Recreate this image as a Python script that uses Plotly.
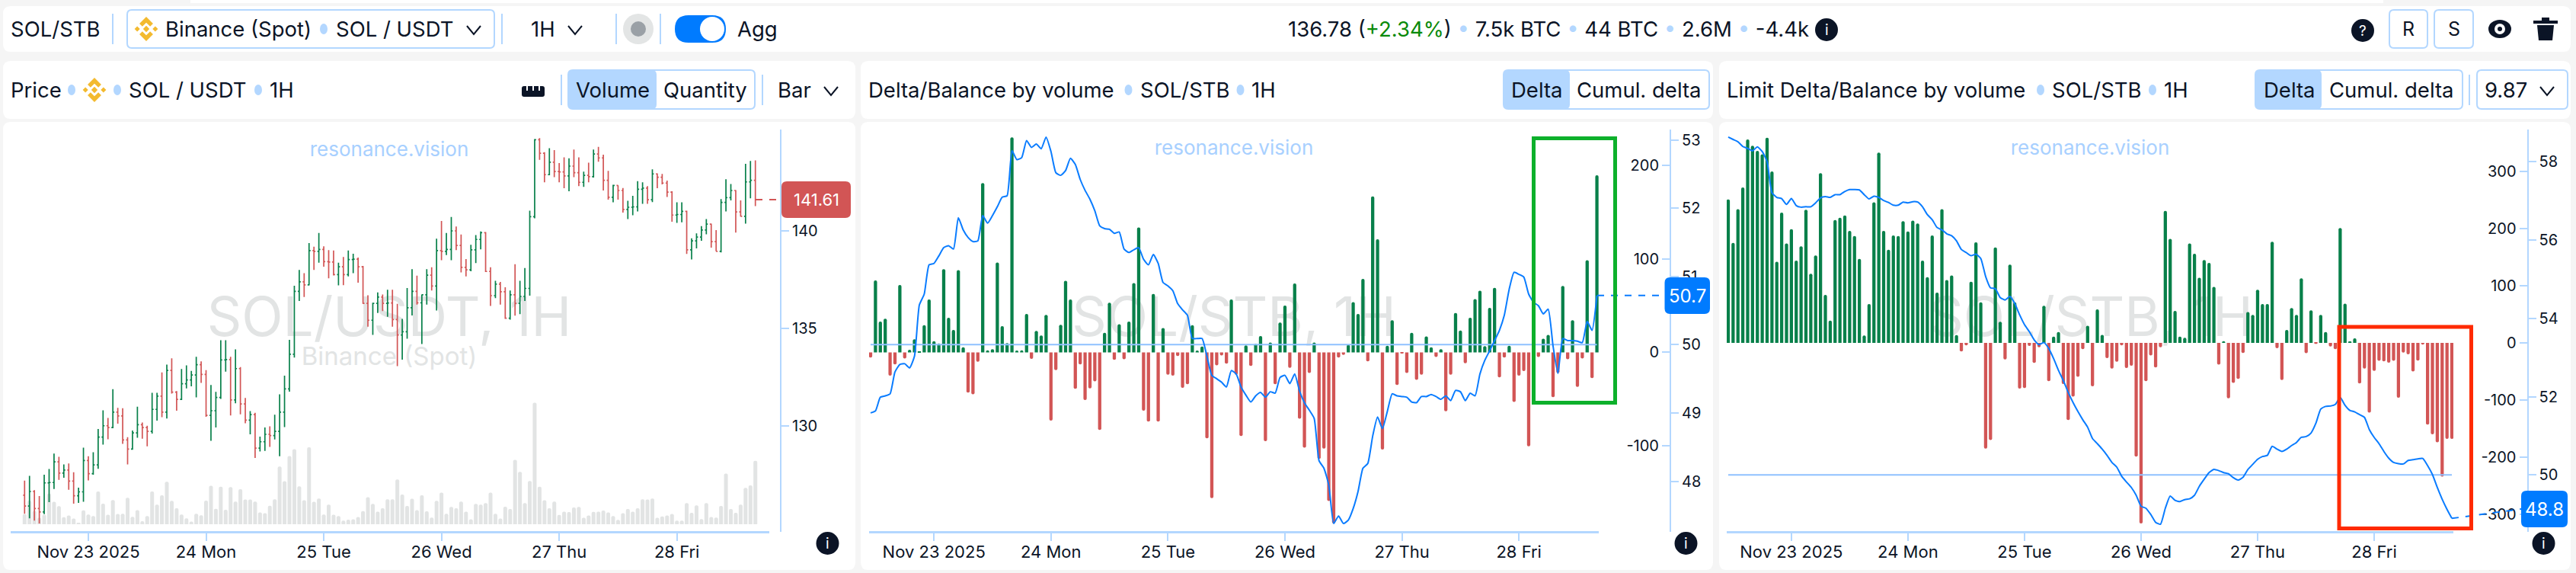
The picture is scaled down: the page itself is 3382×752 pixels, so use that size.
# SOL/STB dashboard: price, delta/balance, limit delta/balance on one figure
import pandas as pd
import plotly.graph_objects as go

W, H = 3382, 752

##Data
day_ticks = ["2025-11-23", "2025-11-24", "2025-11-25", "2025-11-26", "2025-11-27", "2025-11-28"]
day_labels = ["Nov 23 2025", "24 Mon", "25 Tue", "26 Wed", "27 Thu", "28 Fri"]

opens = [126.45,125.89,126.64,125.77,125.59,127.08,127.10,128.16,127.58,127.74,
127.17,126.42,126.62,128.23,127.55,128.00,129.43,130.01,129.92,130.71,
130.51,129.28,128.81,129.64,130.06,129.92,129.72,130.85,131.53,130.71,
132.85,131.73,131.36,132.16,132.36,132.61,133.14,132.64,130.54,130.78,
131.46,133.38,133.40,131.33,132.94,131.13,130.30,130.58,128.86,129.19,
129.57,129.51,129.72,130.71,131.90,133.68,136.90,137.39,137.23,138.99,
138.95,139.05,138.42,138.40,137.76,138.16,137.76,138.53,138.55,138.16,
136.28,135.42,136.28,136.61,136.28,136.30,135.45,134.66,134.83,136.06,
136.90,136.31,136.72,137.73,137.17,138.99,138.95,139.05,140.00,139.25,
138.13,138.00,139.03,139.56,139.91,137.92,136.68,137.27,136.88,135.52,
136.72,136.28,136.64,137.05,140.73,144.67,143.98,142.88,143.52,143.04,
143.02,142.82,143.32,142.98,142.49,142.85,142.78,143.94,143.74,142.59,
141.72,142.33,142.07,141.10,141.21,141.23,142.13,142.19,141.60,142.92,
142.75,142.45,141.99,140.81,140.84,141.00,139.03,139.49,139.68,140.04,
140.35,139.45,138.95,141.46,141.70,142.07,140.97,140.75,142.51,142.59]

highs = [127.20,127.44,126.71,126.41,127.50,127.79,128.58,128.42,128.03,128.08,
127.63,126.84,128.89,128.45,128.65,129.84,130.80,130.41,131.88,130.93,
130.91,129.42,129.77,130.99,130.18,130.01,131.70,131.70,132.74,133.14,
133.47,131.79,132.92,133.11,132.82,133.54,133.31,132.86,132.10,131.75,
134.39,134.39,133.54,133.93,133.02,131.44,130.76,130.67,129.45,129.92,
129.98,130.58,131.62,132.58,134.41,137.19,138.00,137.83,139.37,139.19,
139.89,139.21,139.01,138.99,138.37,138.66,138.99,138.83,138.63,138.20,
136.70,136.32,136.85,136.74,136.98,136.98,136.26,135.49,137.07,138.04,
137.70,136.74,138.04,138.13,139.60,140.51,139.89,140.71,140.22,139.81,
138.55,139.29,139.78,139.97,139.94,138.13,137.44,137.38,137.11,136.94,
138.29,137.44,138.10,141.03,144.71,144.76,144.03,144.24,144.14,143.48,
143.77,143.72,144.17,143.77,143.04,143.50,144.17,144.31,143.91,143.08,
142.36,142.33,142.20,141.54,141.80,142.55,142.49,142.29,143.15,142.95,
142.92,142.58,142.03,141.46,141.46,141.03,139.62,139.87,140.24,140.61,
140.37,140.04,141.63,142.65,142.40,142.09,141.56,143.44,143.58,143.61]

lows = [125.50,125.26,125.15,125.00,125.48,126.09,126.77,127.24,127.34,126.73,
126.02,126.05,126.11,127.21,127.50,127.80,129.04,129.32,129.88,130.12,
129.08,128.03,128.78,129.39,129.35,128.95,129.61,130.27,130.45,130.38,
131.66,130.78,131.33,131.92,132.03,131.46,132.21,130.47,129.24,129.92,
131.39,132.78,130.54,131.16,130.60,130.14,129.57,128.36,128.69,128.72,
128.93,129.31,128.45,129.94,131.76,133.51,136.41,136.61,137.21,138.00,
138.37,138.16,137.57,137.71,137.21,137.22,137.67,137.83,137.34,136.26,
135.09,134.67,135.79,135.89,135.60,135.09,133.07,133.40,134.47,135.66,
136.22,134.20,136.22,136.94,135.92,138.50,138.76,138.50,139.01,137.87,
137.67,137.93,138.35,139.05,137.89,136.15,136.55,136.22,135.49,135.45,
135.65,135.73,136.41,136.68,140.64,143.64,142.49,142.85,142.75,142.49,
142.19,142.03,142.75,142.29,142.26,142.49,142.73,143.54,142.07,141.60,
141.46,141.60,140.94,140.61,140.80,141.00,141.39,141.39,141.47,142.19,
142.38,141.74,140.47,140.41,140.44,138.82,138.53,139.10,139.49,139.82,
139.14,138.95,138.90,141.00,141.56,139.91,140.73,140.37,141.67,141.27]

closes = [125.89,126.64,125.77,125.59,127.08,127.10,128.16,127.58,127.74,127.17,
126.42,126.62,128.23,127.55,128.00,129.43,130.01,129.92,130.71,130.51,
129.28,128.81,129.64,130.06,129.92,129.72,130.85,131.53,130.71,132.85,
131.73,131.36,132.16,132.36,132.61,133.14,132.64,130.54,130.78,131.46,
133.38,133.40,131.33,132.94,131.13,130.30,130.58,128.86,129.19,129.57,
129.51,129.72,130.71,131.90,133.68,136.90,137.39,137.23,138.99,138.95,
139.05,138.42,138.40,137.76,138.16,137.76,138.53,138.55,138.16,136.28,
135.42,136.28,136.61,136.28,136.30,135.45,134.66,134.83,136.06,136.90,
136.31,136.72,137.73,137.17,138.99,138.95,139.05,140.00,139.25,138.13,
138.00,139.03,139.56,139.91,137.92,136.68,137.27,136.88,135.52,136.72,
136.28,136.64,137.05,140.73,144.67,143.98,142.88,143.52,143.04,143.02,
142.82,143.32,142.98,142.49,142.85,142.78,143.94,143.74,142.59,141.72,
142.33,142.07,141.10,141.21,141.23,142.13,142.19,141.60,142.92,142.75,
142.45,141.99,140.81,140.84,141.00,139.03,139.49,139.68,140.04,140.35,
139.45,138.95,141.46,141.70,142.07,140.97,140.75,142.51,142.59,141.60]

volumes = [.39,.92,.52,.25,.37,1.19,.87,.70,.27,.34,.22,.05,.54,.38,.32,1.27,.80,.37,.94,.40,
.41,1.03,.29,.55,.12,.32,1.27,.76,1.12,1.65,.91,.62,.38,.23,.10,.41,.35,.92,1.49,.60,
1.46,.56,1.44,.88,1.36,.96,.96,.88,.46,.43,.72,.97,2.24,1.67,2.65,2.91,1.47,.93,2.99,.87,
1.00,.38,.76,.37,.32,.14,.18,.19,.28,.51,1.05,.79,.49,.62,.97,.97,1.74,1.15,.71,.99,
.55,1.12,.50,.26,.91,1.23,.41,.67,.62,.88,.49,.19,.79,.76,.82,1.23,.41,.22,.68,.59,
2.50,2.03,.82,1.68,4.72,1.46,.93,.62,.88,.36,.49,.47,.65,.67,.25,.34,.48,.49,.53,.46,
.32,.17,.43,.59,.49,.62,.97,.96,1.00,.25,.30,.34,.40,.14,.14,.82,.44,.73,.20,.82,
.28,.26,.71,1.97,.59,.44,.76,1.41,1.51,2.46]

delta = [-5.5,77,33,36,-25,-13,72,-6.6,2.8,14,0.8,29,56.5,12,9.6,89,37,24,88,5.5,
-43,-45,-10,181,2.2,3.3,96,28,10,230,2,2.2,41,-7,23,18,40,-73,-19,29.5,
76.5,56.5,-39,-13,-51,-38.5,-31,-83,21,53,-8,30,-7.5,33,74,133.6,-62.5,-74,62.5,-74,
26,-24,-25,-4,-38,-34,29,2,6.3,-92,-156,-14,-3.3,-12,56.5,-24,-89.5,7.4,-14.6,9,
17.4,-95,10.5,-34,32,50,-16.5,73.6,-71,-102,-22,10.5,-114,-103,-159,-183,-5.5,-2.8,8,53.7,
41,78.5,-9.6,166.7,121,-104,7,34.4,-35,-1.4,-22,21,-29.5,-24,17,5.5,-5,3.3,-63,-24,
42,23.4,-11.6,37,57,66,6.6,47.7,69,-26.7,-5.5,7,-53,-25,-20,-100.5,3,-5,14.6,18.7,
-48,-22,71,-7.4,34.4,-37,-6.6,98.6,-27.5,189.5]

balance = [49.00,49.03,49.23,49.25,49.28,49.60,49.71,49.72,49.66,49.83,50.58,50.74,51.17,51.19,51.30,51.42,51.45,51.40,51.86,51.68,
51.57,51.51,51.52,51.89,51.78,51.89,52.02,52.16,52.18,52.84,52.71,52.74,52.99,52.89,52.94,52.87,53.04,52.83,52.52,52.48,
52.55,52.73,52.64,52.42,52.26,52.13,51.96,51.74,51.70,51.69,51.63,51.65,51.40,51.35,51.39,51.42,51.25,51.17,51.32,51.19,
50.91,50.86,50.79,50.60,50.51,50.43,50.09,50.09,50.09,49.83,49.55,49.50,49.45,49.38,49.62,49.57,49.38,49.26,49.16,49.25,
49.30,49.23,49.31,49.29,49.52,49.55,49.43,49.57,49.32,49.15,49.04,48.92,48.30,48.19,47.94,47.38,47.49,47.38,47.43,47.60,
47.85,48.19,48.26,48.66,48.94,48.77,49.02,49.28,49.25,49.24,49.23,49.16,49.15,49.24,49.24,49.27,49.24,49.20,49.25,49.18,
49.33,49.31,49.18,49.29,49.25,49.57,49.77,49.91,50.06,50.21,50.43,50.81,51.06,51.03,50.99,50.74,50.62,50.57,50.45,50.52,
49.98,49.58,50.09,50.06,50.06,50.05,50.03,50.34,50.21,50.72]

limit_delta = [251,175,234,272,356,345,336,330,359,300,142,228,174,199,144,169,233,121,153,297,
84,39,215,219,223,196,187,147,13,68,246,333,196,163,188,187,213,195,214,209,
144,115,188,88,234,110,118,13.5,-15,-4.5,107,176,71,-185,-170,167,37,-29,137,71,
-80,-79,-5.4,-35,-7.7,65,-67,11,19,-72,-135,-94,-59.5,-11,30,-76,58.6,14,-26.6,-45,
-33,-4.5,-44,-40,-199,-316,-67,-22,-43,-7.7,231,182,56,11,9,174,156,114,145,140,
98,-38,3,-97,-70,-63,-17.6,54,49,93,68,68,177,-9.5,-65,22.5,61,49,113,-18,
57,-1.8,49,19,-6.3,-11,201,68.5,1.4,8,-71,-45,-122,-49,-31.5,-32.4,-34.7,-31.5,-96,-17,
-20,-50,-31,-3,-143,-160,-174,-234,-168,-168]

limit_balance = [58.63,58.57,58.51,58.39,58.34,58.28,58.38,58.26,58.00,57.21,57.09,57.06,56.91,57.06,56.88,56.84,56.85,56.85,56.95,57.08,
57.11,57.09,57.16,57.16,57.24,57.29,57.29,57.28,57.16,57.05,57.12,57.09,57.01,56.96,56.89,56.89,56.97,56.95,56.98,56.97,
56.85,56.65,56.52,56.32,56.26,56.16,56.11,55.98,55.76,55.68,55.60,55.64,55.53,55.07,54.78,54.76,54.53,54.47,54.56,54.38,
54.09,53.84,53.66,53.45,53.33,53.38,53.23,52.97,52.67,52.41,52.11,51.85,51.62,51.41,51.22,50.93,50.80,50.66,50.50,50.32,
50.20,49.97,49.82,49.68,49.48,49.20,49.15,48.99,48.79,48.74,49.15,49.46,49.35,49.32,49.37,49.39,49.48,49.71,49.89,50.06,
50.14,50.11,50.06,50.03,49.93,49.87,49.94,50.14,50.27,50.40,50.47,50.50,50.73,50.66,50.60,50.66,50.75,50.83,50.96,50.98,
51.07,51.32,51.68,51.75,51.76,51.80,51.98,51.78,51.65,51.61,51.54,51.47,51.16,50.96,50.80,50.60,50.43,50.32,50.29,50.28,
50.37,50.39,50.41,50.42,50.24,50.01,49.68,49.38,49.12,48.89]

#Colours
GREEN = "#08804a"
RED = "#d25555"
GREY = "#e2e4e4"
BLUE = "#0a7cff"
PALE = "#b3d7ff"
INK = "#0b1426"
FONT = "Inter"

hours = pd.date_range("2025-11-22 11:00", periods=len(closes), freq="h")


def hours_from_start(h):
    return hours[0] + pd.Timedelta(hours=h)


def fx(x):
    return x / W


def fy(y):
    return 1 - y / H


shapes = []
annotations = []


def rrect_path(x0, y0, x1, y1, r):
    a, b, c, d = fx(x0), fy(y0), fx(x1), fy(y1)
    rx, ry = r / W, r / H
    return (f"M {a + rx} {b} L {c - rx} {b} Q {c} {b} {c} {b - ry} L {c} {d + ry} Q {c} {d} {c - rx} {d} "
            f"L {a + rx} {d} Q {a} {d} {a} {d + ry} L {a} {b - ry} Q {a} {b} {a + rx} {b} Z")


def box(x0, y0, x1, y1, fill="white", line=None, lw=0, r=0, layer="below"):
    shapes.append(dict(type="path", path=rrect_path(x0, y0, x1, y1, r), xref="paper", yref="paper",
                       fillcolor=fill, line=dict(color=line or fill, width=lw), layer=layer))


def disc(cx, cy, rx, ry=None, fill=INK, layer="above"):
    ry = rx if ry is None else ry
    shapes.append(dict(type="circle", xref="paper", yref="paper", x0=fx(cx - rx), x1=fx(cx + rx),
                       y0=fy(cy - ry), y1=fy(cy + ry), fillcolor=fill, line=dict(width=0), layer=layer))


def poly(points, fill=None, line=None, lw=2):
    path = "M " + " L ".join(f"{fx(x)} {fy(y)}" for x, y in points)
    if fill:
        path += " Z"
    shapes.append(dict(type="path", path=path, xref="paper", yref="paper",
                       fillcolor=fill or "rgba(0,0,0,0)", line=dict(color=line or fill, width=lw if line else 0)))


def sep(x, y0, y1):
    poly([(x, y0), (x, y1)], line=PALE, lw=2)


def chevron(x, y):
    poly([(x - 9, y - 5), (x, y + 6), (x + 9, y - 5)], line=INK, lw=2)


def label(text, x, y, size=27.5, color=INK, anchor="left"):
    annotations.append(dict(text=text, x=fx(x), y=fy(y), xref="paper", yref="paper", showarrow=False,
                            xanchor=anchor, yanchor="middle", borderpad=0,
                            font=dict(family=FONT, size=size, color=color)))


def binance(cx, cy, s=16):
    gold = "#f3ba2f"
    chev = [(0, -1), (0.56, -0.44), (0.32, -0.2), (0, -0.52), (-0.32, -0.2), (-0.56, -0.44)]
    poly([(cx + a * s, cy + b * s) for a, b in chev], fill=gold)
    poly([(cx + a * s, cy - b * s) for a, b in chev], fill=gold)
    for dx, size in [(-0.74, 0.22), (0.74, 0.22), (0, 0.26)]:
        x, q = cx + dx * s, size * s
        poly([(x, cy - q), (x + q, cy), (x, cy + q), (x - q, cy)], fill=gold)


def watermark(text, cx, cy, size, color=GREY):
    shapes.append(dict(type="rect", xref="paper", yref="paper", x0=fx(cx - 300), x1=fx(cx + 300),
                       y0=fy(cy + 50), y1=fy(cy - 50), line=dict(width=0), fillcolor="rgba(0,0,0,0)", layer="below",
                       label=dict(text=text, textposition="middle center",
                                  font=dict(family=FONT, size=size, color=color))))


def info(cx, cy, ch="i"):
    disc(cx, cy, 15)
    label(ch, cx, cy, size=19, color="white", anchor="center")


##Page furniture
box(250, 0, 3129, 4)
box(4, 8, 3375, 68, r=10)
for x0, x1 in [(4, 1123), (1130, 2249), (2257, 3375)]:
    box(x0, 80, x1, 156, r=10)
    box(x0, 160, x1, 748, r=10)

#Top bar
label("SOL/STB", 13, 38)
sep(148, 18, 58)
box(167, 13, 649, 63, fill="white", line=PALE, lw=2, r=6, layer="above")
binance(192, 38)
label("Binance (Spot)", 216, 38)
disc(425, 38, 5, 7, fill=PALE)
label("SOL / USDT", 440, 38)
chevron(622, 39)
sep(659, 18, 58)
label("1H", 696, 38)
chevron(755, 39)
sep(809, 18, 58)
disc(838, 38, 20, fill="#e3e5e5")
disc(838, 38, 10, fill="#9aa0a6")
sep(867, 18, 58)
box(886, 20, 953, 56, fill="#007bff", r=18, layer="above")
disc(935, 38, 16, fill="white")
label("Agg", 967, 38)
dot = '<span style="color:#b3d7ff">•</span>'
label(f'136.78 (<span style="color:#0a8a0a">+2.34%</span>) {dot} 7.5k BTC {dot} 44 BTC {dot} 2.6M {dot} -4.4k',
      1690, 38, size=27.5)
info(2398, 39)
info(3102, 40, "?")
box(3137, 13, 3187, 63, line=PALE, lw=2, r=6, layer="above")
label("R", 3162, 38, size=25, anchor="center")
box(3196, 13, 3247, 63, line=PALE, lw=2, r=6, layer="above")
label("S", 3222, 38, size=25, anchor="center")
disc(3282, 38, 15, 12)
disc(3282, 38, 7, fill="white")
disc(3282, 38, 3)
poly([(3331, 33), (3353, 33), (3351, 53), (3333, 53)], fill=INK)
poly([(3326, 27), (3358, 27), (3358, 31), (3326, 31)], fill=INK)
poly([(3337, 23), (3347, 23), (3347, 27), (3337, 27)], fill=INK)


def toggle(x0, x1, xm, left, right, cl, cr):
    box(x0, 92, x1, 143, fill="white", line=PALE, lw=2, r=6, layer="above")
    box(x0, 92, xm, 143, fill=PALE, r=6, layer="above")
    label(left, cl, 118, anchor="center")
    label(right, cr, 118, anchor="center")


#Panel 1 header
label("Price", 13, 118)
disc(94, 118, 5, 7, fill=PALE)
binance(124, 118)
disc(154, 118, 5, 7, fill=PALE)
label("SOL / USDT", 168, 118)
disc(339, 118, 5, 7, fill=PALE)
label("1H", 353, 118)
box(685, 113, 715, 127, fill=INK, r=3, layer="above")
for notch in [692, 700, 708]:
    poly([(notch - 1, 113), (notch + 1, 113), (notch + 1, 119), (notch - 1, 119)], fill="white")
sep(737, 98, 138)
toggle(746, 991, 862, "Volume", "Quantity", 804, 926)
sep(1001, 98, 138)
label("Bar", 1020, 118)
chevron(1091, 119)

#Panel 2 header
label("Delta/Balance by volume", 1139, 118)
disc(1481.5, 118, 5, 7, fill=PALE)
label("SOL/STB", 1496, 118)
disc(1628.5, 118, 5, 7, fill=PALE)
label("1H", 1642, 118)
toggle(1974, 2244, 2061, "Delta", "Cumul. delta", 2017.5, 2151.5)

#Panel 3 header
label("Limit Delta/Balance by volume", 2266, 118)
disc(2679, 118, 5, 7, fill=PALE)
label("SOL/STB", 2693, 118)
disc(2826, 118, 5, 7, fill=PALE)
label("1H", 2840, 118)
toggle(2961, 3233, 3048, "Delta", "Cumul. delta", 3006, 3139.5)
sep(3242, 98, 138)
box(3252, 92, 3371, 143, line=PALE, lw=2, r=6, layer="above")
label("9.87", 3290, 118, anchor="center")
chevron(3344, 119)

#Watermarks sit under the traces
watermark("SOL/USDT, 1H", 511, 413, 71)
watermark("Binance (Spot)", 511, 466, 33)
watermark("resonance.vision", 511, 194, 26, color="#a8d0ff")
watermark("SOL/STB, 1H", 1620, 413, 71)
watermark("resonance.vision", 1620, 192, 26, color="#a8d0ff")
watermark("SOL/STB, 1H", 2745, 413, 71)
watermark("resonance.vision", 2744, 192, 26, color="#a8d0ff")

##Traces
fig = go.Figure()
fig.add_trace(go.Bar(x=hours, y=volumes, width=3600000 * 0.78, marker=dict(color=GREY, line=dict(width=0)),
                     xaxis="x", yaxis="y", name="Volume"))
fig.add_trace(go.Ohlc(x=hours, open=opens, high=highs, low=lows, close=closes, tickwidth=0.3,
                      increasing=dict(line=dict(color=GREEN, width=1.7)),
                      decreasing=dict(line=dict(color=RED, width=1.7)),
                      xaxis="x", yaxis="y2", name="Price"))

fig.add_trace(go.Bar(x=hours, y=delta, width=3600000 * 0.67,
                     marker=dict(color=[GREEN if v >= 0 else RED for v in delta], line=dict(width=0)),
                     xaxis="x2", yaxis="y3", name="Delta"))
fig.add_trace(go.Scatter(x=[hours[0], hours[-1]], y=[50, 50], mode="lines", line=dict(color="#8fc1ff", width=2),
                         xaxis="x2", yaxis="y4", name="Level"))
fig.add_trace(go.Scatter(x=hours, y=balance, mode="lines", line=dict(color=BLUE, width=2, shape="spline", smoothing=0.5),
                         xaxis="x2", yaxis="y4", name="Balance"))

fig.add_trace(go.Bar(x=hours, y=limit_delta, width=3600000 * 0.67,
                     marker=dict(color=[GREEN if v >= 0 else RED for v in limit_delta], line=dict(width=0)),
                     xaxis="x3", yaxis="y5", name="Limit delta"))
fig.add_trace(go.Scatter(x=[hours[0], hours[-1]], y=[50, 50], mode="lines", line=dict(color="#8fc1ff", width=2),
                         xaxis="x3", yaxis="y6", name="Level"))
fig.add_trace(go.Scatter(x=hours, y=limit_balance, mode="lines",
                         line=dict(color=BLUE, width=2, shape="spline", smoothing=0.5),
                         xaxis="x3", yaxis="y6", name="Limit balance"))

##Last value markers
shapes.append(dict(type="line", xref="paper", yref="y2", x0=fx(992), x1=fx(1026), y0=closes[-1], y1=closes[-1],
                   line=dict(color=RED, width=2, dash="dash")))
shapes.append(dict(type="line", xref="paper", yref="y4", x0=fx(2097), x1=fx(2186), y0=balance[-1], y1=balance[-1],
                   line=dict(color=BLUE, width=2, dash="dash")))
shapes.append(dict(type="line", xref="paper", yref="y6", x0=fx(3219), x1=fx(3310), y0=limit_balance[-1], y1=49.13,
                   line=dict(color=BLUE, width=2, dash="dash")))

box(1026, 238, 1117, 286, fill=RED, r=7, layer="above")
label("141.61", 1071.5, 262, size=22, color="white", anchor="center")
box(2185.5, 364, 2245, 412, fill="#007bff", r=7, layer="above")
label("50.7", 2215, 388, size=24, color="white", anchor="center")
box(3310, 644, 3371, 692, fill="#007bff", r=7, layer="above")
label("48.8", 3340.5, 668, size=24, color="white", anchor="center")

#Highlight frames
box(2013.5, 181.5, 2120.5, 528.5, fill="rgba(0,0,0,0)", line="#0db02b", lw=5, layer="above")
box(3071, 429, 3244.5, 693.5, fill="rgba(0,0,0,0)", line="#ff2a00", lw=5, layer="above")

info(1086.5, 713)
info(2213.5, 713)
info(3339.5, 713)

##Axes
TOP, BOTTOM = 170, 698
y_domain = [fy(BOTTOM), fy(TOP)]
tick_font = dict(family=FONT, size=20, color=INK)


def x_axis(x0, x1, first, last):
    return dict(domain=[fx(x0), fx(x1)], range=[hours_from_start(first), hours_from_start(last)], type="date",
                tickmode="array", tickvals=day_ticks, ticktext=day_labels, ticks="outside", ticklen=10,
                tickwidth=2, tickcolor=PALE, showline=True, linecolor=PALE, linewidth=3, showgrid=False,
                zeroline=False, rangeslider=dict(visible=False), tickfont=dict(family=FONT, size=22, color=INK),
                ticklabelstandoff=-4, anchor="free", position=fy(BOTTOM))


def y_axis(pos, rng, vals, side, overlay=None):
    ax = dict(domain=y_domain, range=rng, anchor="free", position=fx(pos), side=side, tickmode="array",
              tickvals=vals, ticktext=[str(v) for v in vals], ticks="outside", ticklen=10, tickwidth=2,
              tickcolor=PALE, showline=True, linecolor=PALE, linewidth=2, showgrid=False, zeroline=False,
              tickfont=tick_font)
    if overlay:
        ax["overlaying"] = overlay
    return ax


fig.update_layout(
    width=W, height=H, autosize=False, margin=dict(l=0, r=0, t=0, b=0), showlegend=False,
    paper_bgcolor="#f5f5f5", plot_bgcolor="rgba(0,0,0,0)", font=dict(family=FONT, color=INK),
    barcornerradius=2, shapes=shapes, annotations=annotations,
    xaxis=x_axis(14, 1010, -2.84, 151.84),
    yaxis=dict(domain=y_domain, range=[-0.296, 15.32], visible=False),
    yaxis2=y_axis(1025, [124.57, 145.195], [130, 135, 140], "right", "y"),
    xaxis2=x_axis(1141, 2099, -0.31, 149.38),
    yaxis3=y_axis(2193, [-192, 238.3], [-100, 0, 100, 200], "left"),
    yaxis4=y_axis(2193, [47.258, 53.151], [48, 49, 50, 51, 52, 53], "right", "y3"),
    xaxis3=x_axis(2267, 3221, -0.31, 149.31),
    yaxis5=y_axis(3318.5, [-330.7, 373.3], [-300, -200, -100, 0, 100, 200, 300], "left"),
    yaxis6=y_axis(3318.5, [48.546, 58.823], [50, 52, 54, 56, 58], "right", "y5"),
)

fig.write_html("out.html", config={"displayModeBar": False}, post_script="document.body.style.margin='0';")
print("plot complete")
